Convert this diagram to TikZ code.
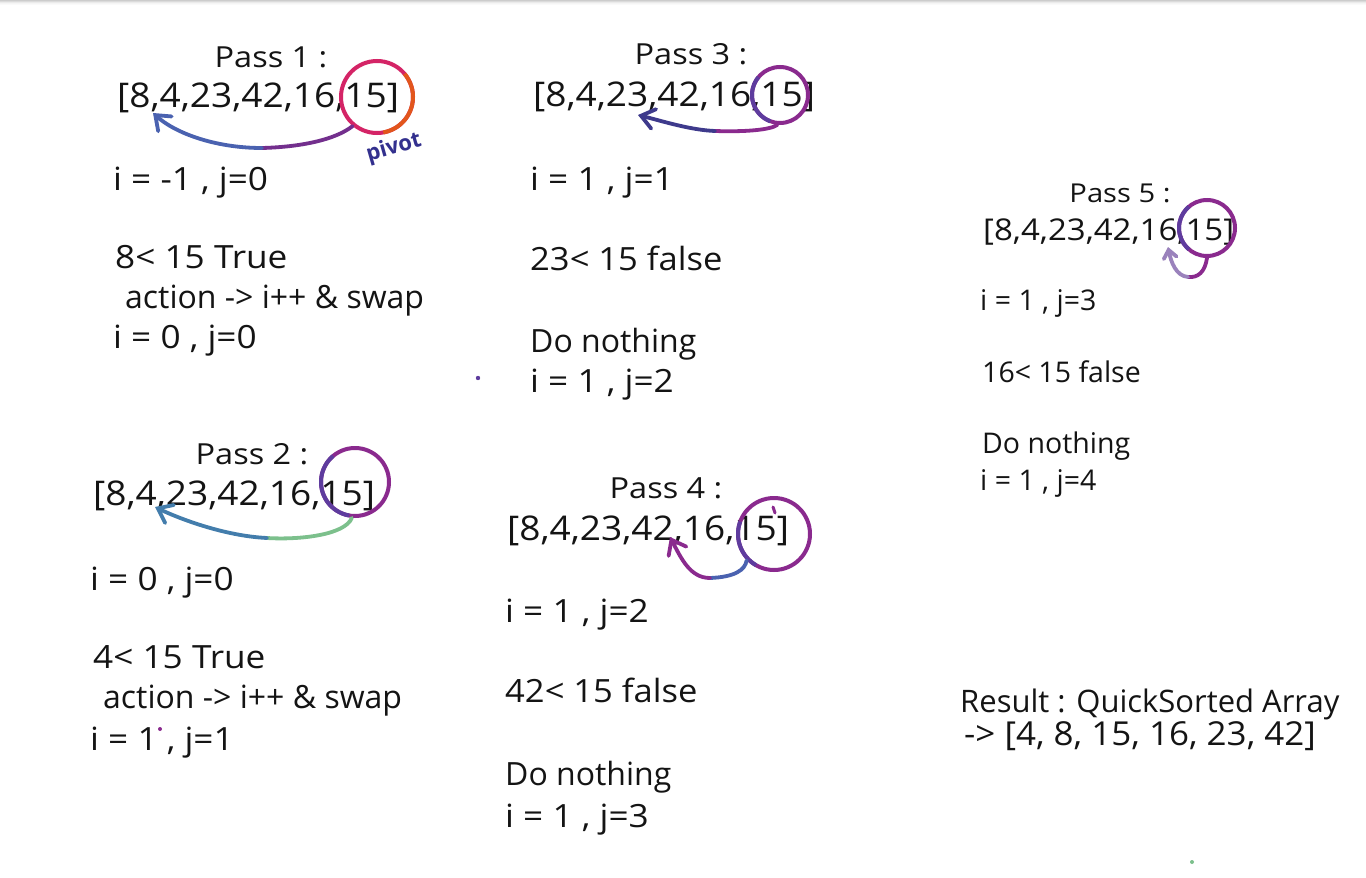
\documentclass[tikz,border=0pt]{standalone}
\usepackage{fontspec}
\setmainfont{Open Sans}
\usetikzlibrary{arrows.meta}
\definecolor{ink}{HTML}{141414}
\definecolor{crim}{HTML}{D42466}
\definecolor{orng}{HTML}{E2561C}
\definecolor{purp}{HTML}{8A2A8E}
\definecolor{bpurp}{HTML}{5E3C9E}
\definecolor{navy}{HTML}{3E3A8C}
\definecolor{blu}{HTML}{4A62B0}
\definecolor{grn}{HTML}{7CC08C}
\definecolor{teal}{HTML}{3F8FAA}
\definecolor{lav}{HTML}{9A82BC}
\definecolor{pivc}{HTML}{33308E}
\tikzset{
  txt/.style={anchor=base west, inner sep=0pt, text=ink, font=\fontsize{32}{38}\selectfont},
  wide/.style={xscale=1.1},
  txts/.style={txt, font=\fontsize{28.5}{34}\selectfont},
  arr/.style={anchor=base west, inner sep=0pt, text=ink, xscale=1.09, font=\fontsize{34}{40}\selectfont},
  arrs/.style={anchor=base west, inner sep=0pt, text=ink, xscale=1.1, font=\fontsize{30}{36}\selectfont},
  ttl/.style={anchor=base, inner sep=0pt, text=ink, xscale=1.12, font=\fontsize{29}{34}\selectfont},
  ttls/.style={anchor=base, inner sep=0pt, text=ink, xscale=1.12, font=\fontsize{26}{30}\selectfont},
  ring/.style={circle, inner sep=0pt, line width=4pt},
  hand/.style={line width=3.8pt, line cap=round},
  bigtip/.style={-{Straight Barb[length=13pt,width=20pt,line cap=round]}},
  smalltip/.style={-{Straight Barb[length=8pt,width=13pt,line cap=round]}}
}
\begin{document}
\begin{tikzpicture}[x=1pt,y=-1pt]
\useasboundingbox (0,0) rectangle (1366,878);
\fill[white] (0,0) rectangle (1366,878);
% top shadow
\draw[gray!40,line width=1pt] (0,0.5) -- (1366,0.5);
\draw[gray!28,line width=1pt] (0,1.5) -- (1366,1.5);
\draw[gray!16,line width=1pt] (0,2.5) -- (1366,2.5);
\draw[gray!8,line width=1pt] (0,3.5) -- (1366,3.5);
\draw[gray!4,line width=1pt] (0,4.5) -- (1366,4.5);

% ---------- Pass 1 ----------
\node[ttl] (p1) at (271,67) {Pass 1 :};
\node[arr] (a1) at (117,107) {[8,4,23,42,16,15]};
\node[ring, draw=crim, minimum size=72pt] (c1) at (377,97) {};
\draw[orng, line width=4pt] (c1.center) ++(-40:36) arc[start angle=-40, end angle=80, radius=36];
\node[inner sep=0pt, rotate=16, text=pivc, font=\fontsize{22}{24}\selectfont\bfseries] (pv) at (394,148) {pivot};
\coordinate (m1) at (262,148);
\coordinate (t1) at (153,113);
\draw[hand, color=purp!70!navy] (c1.-130) .. controls (335,140) and (300,147) .. (m1);
\draw[hand, color=blu, bigtip] (m1) .. controls (215,148) and (175,133) .. (t1);
\node[txt, wide] (l1a) at (113,190) {i = -1 , j=0};
\node[txt, wide] (l1b) at (115,268) {8< 15 True};
\node[txt] (l1c) at (125,308) {action -> i++ \& swap};
\node[txt, wide] (l1d) at (113,348) {i = 0 , j=0};

% ---------- Pass 2 ----------
\node[ttl] (p2) at (252,464) {Pass 2 :};
\node[arr] (a2) at (93,505) {[8,4,23,42,16,15]};
\node[ring, draw=purp, minimum size=68pt] (c2) at (355,482) {};
\draw[bpurp, line width=4pt] (c2.center) ++(100:34) arc[start angle=100, end angle=230, radius=34];
\coordinate (m2) at (267,538);
\coordinate (t2) at (155,507);
\draw[hand, color=grn] (c2.-95) .. controls (345,535) and (300,540) .. (m2);
\draw[hand, color=teal!60!blu, bigtip] (m2) .. controls (225,536) and (180,519) .. (t2);
\node[txt, wide] (l2a) at (90,590) {i = 0 , j=0};
\node[txt, wide] (l2b) at (93,668) {4< 15 True};
\node[txt] (l2c) at (103,708) {action -> i++ \& swap};
\node[txt, wide] (l2d) at (90,750) {i = 1 , j=1};
\fill[purp] (160,729) circle[radius=2];

% ---------- Pass 3 ----------
\node[ttl] (p3) at (691,64) {Pass 3 :};
\node[arr] (a3) at (533,106) {[8,4,23,42,16,15]};
\node[ring, draw=purp, minimum size=56pt] (c3) at (780,95) {};
\draw[bpurp, line width=4pt] (c3.center) ++(110:28) arc[start angle=110, end angle=220, radius=28];
\coordinate (m3) at (715,131);
\coordinate (t3) at (638,115);
\draw[hand, color=purp] (c3.-95) .. controls (770,130) and (745,132) .. (m3);
\draw[hand, color=navy, bigtip] (m3) .. controls (690,130) and (662,121) .. (t3);
\node[txt, wide] (l3a) at (530,190) {i = 1 , j=1};
\node[txt, xscale=1.08] (l3b) at (530,270) {23< 15 false};
\node[txt] (l3c) at (530,352) {Do nothing};
\node[txt, wide] (l3d) at (530,392) {i = 1 , j=2};
\fill[bpurp] (478,378) circle[radius=2.2];

% ---------- Pass 4 ----------
\node[ttl] (p4) at (666,498) {Pass 4 :};
\node[arr] (a4) at (507,540) {[8,4,23,42,16,15]};
\node[ring, draw=purp, minimum size=72pt] (c4) at (774,534) {};
\draw[bpurp, line width=4pt] (c4.center) ++(120:36) arc[start angle=120, end angle=200, radius=36];
\draw[purp, line width=3pt, line cap=round] (773,507) -- (775,513);
\coordinate (m4) at (710,578);
\coordinate (t4) at (670,537);
\draw[hand, color=blu] (c4.-136) .. controls (745,570) and (735,577) .. (m4);
\draw[hand, color=purp, bigtip] (m4) .. controls (690,578) and (681,558) .. (t4);
\node[txt, wide] (l4a) at (505,622) {i = 1 , j=2};
\node[txt, xscale=1.08] (l4b) at (505,702) {42< 15 false};
\node[txt] (l4c) at (505,785) {Do nothing};
\node[txt, wide] (l4d) at (505,827) {i = 1 , j=3};

% ---------- Pass 5 ----------
\node[ttls] (p5) at (1120,202) {Pass 5 :};
\node[arrs] (a5) at (983,240) {[8,4,23,42,16,15]};
\node[ring, draw=purp, minimum size=56pt] (c5) at (1207,228) {};
\draw[bpurp, line width=4pt] (c5.center) ++(130:28) arc[start angle=130, end angle=230, radius=28];
\coordinate (m5) at (1188,277);
\coordinate (t5) at (1168,247);
\draw[hand, color=purp] (c5.-90) .. controls (1205,272) and (1198,278) .. (m5);
\draw[hand, color=lav, smalltip] (m5) .. controls (1176,276) and (1171,262) .. (t5);
\node[txts] (l5a) at (980,310) {i = 1 , j=3};
\node[txts] (l5b) at (982,382) {16< 15 false};
\node[txts] (l5c) at (982,453) {Do nothing};
\node[txts] (l5d) at (980,490) {i = 1 , j=4};

% ---------- Result ----------
\node[txt, font=\fontsize{31}{36}\selectfont] (r1) at (960,712) {Result : QuickSorted Array};
\node[txt, xscale=1.06, font=\fontsize{33}{38}\selectfont] (r2) at (964,745) {-> [4, 8, 15, 16, 23, 42]};
\fill[grn] (1192,862) circle[radius=2];
\end{tikzpicture}
\end{document}
